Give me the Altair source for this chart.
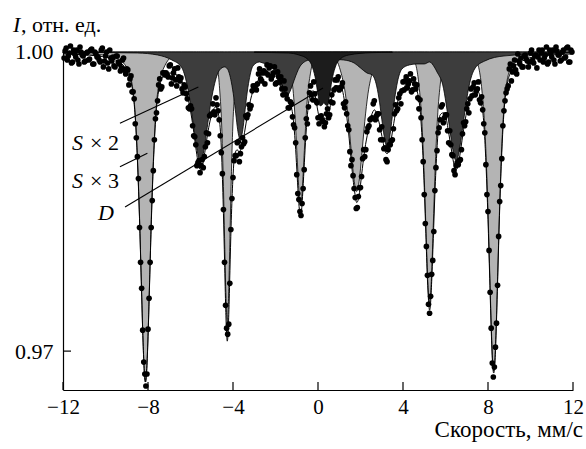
import altair as alt
import pandas as pd

# ---- Mössbauer spectrum: measured transmission (relative units) ----
# first half-channel set
velocity = [
    -11.9, -11.8, -11.7, -11.6, -11.5, -11.4, -11.3, -11.2, -11.1, -11.0,
    -10.9, -10.8, -10.7, -10.6, -10.5, -10.4, -10.3, -10.2, -10.1, -10.0,
    -9.9, -9.8, -9.7, -9.6, -9.5, -9.4, -9.3, -9.2, -9.1, -9.0,
    -8.9, -8.8, -8.7, -8.6, -8.5, -8.4, -8.3, -8.2, -8.1, -8.0,
    -7.9, -7.8, -7.7, -7.6, -7.5, -7.4, -7.3, -7.2, -7.1, -7.0,
    -6.9, -6.8, -6.7, -6.6, -6.5, -6.4, -6.3, -6.2, -6.1, -6.0,
    -5.9, -5.8, -5.7, -5.6, -5.5, -5.4, -5.3, -5.2, -5.1, -5.0,
    -4.9, -4.8, -4.7, -4.6, -4.5, -4.4, -4.3, -4.2, -4.1, -4.0,
    -3.9, -3.8, -3.7, -3.6, -3.5, -3.4, -3.3, -3.2, -3.1, -3.0,
    -2.9, -2.8, -2.7, -2.6, -2.5, -2.4, -2.3, -2.2, -2.1, -2.0,
    -1.9, -1.8, -1.7, -1.6, -1.5, -1.4, -1.3, -1.2, -1.1, -1.0,
    -0.9, -0.8, -0.7, -0.6, -0.5, -0.4, -0.3, -0.2, -0.1, 0.0,
    0.1, 0.2, 0.3, 0.4, 0.5, 0.6, 0.7, 0.8, 0.9, 1.0,
    1.1, 1.2, 1.3, 1.4, 1.5, 1.6, 1.7, 1.8, 1.9, 2.0,
    2.1, 2.2, 2.3, 2.4, 2.5, 2.6, 2.7, 2.8, 2.9, 3.0,
    3.1, 3.2, 3.3, 3.4, 3.5, 3.6, 3.7, 3.8, 3.9, 4.0,
    4.1, 4.2, 4.3, 4.4, 4.5, 4.6, 4.7, 4.8, 4.9, 5.0,
    5.1, 5.2, 5.3, 5.4, 5.5, 5.6, 5.7, 5.8, 5.9, 6.0,
    6.1, 6.2, 6.3, 6.4, 6.5, 6.6, 6.7, 6.8, 6.9, 7.0,
    7.1, 7.2, 7.3, 7.4, 7.5, 7.6, 7.7, 7.8, 7.9, 8.0,
    8.1, 8.2, 8.3, 8.4, 8.5, 8.6, 8.7, 8.8, 8.9, 9.0,
    9.1, 9.2, 9.3, 9.4, 9.5, 9.6, 9.7, 9.8, 9.9, 10.0,
    10.1, 10.2, 10.3, 10.4, 10.5, 10.6, 10.7, 10.8, 10.9, 11.0,
    11.1, 11.2, 11.3, 11.4, 11.5, 11.6, 11.7, 11.8, 11.9,
]
intensity = [
    1.0001, .9992, .9999, .9989, 1.0002, .9995, .9992, 1.0005, .9997, .9990,
    .9999, .9992, 1.0002, .9988, 1.0000, .9995, .9992, 1.0002, .9985, .9996,
    .9989, 1.0002, .9991, .9986, .9996, .9990, .9981, .9992, .9982, .9983,
    .9967, .9976, .9960, .9928, .9895, .9824, .9763, .9689, .9665, .9722,
    .9789, .9851, .9912, .9939, .9967, .9963, .9979, .9977, .9977, .9986,
    .9968, .9979, .9972, .9984, .9971, .9963, .9967, .9958, .9944, .9946,
    .9926, .9915, .9886, .9891, .9886, .9884, .9905, .9909, .9936, .9938,
    .9940, .9954, .9941, .9916, .9878, .9789, .9723, .9727, .9822, .9874,
    .9896, .9909, .9890, .9905, .9908, .9936, .9937, .9943, .9961, .9965,
    .9962, .9978, .9973, .9979, .9968, .9987, .9984, .9973, .9979, .9968,
    .9980, .9970, .9963, .9971, .9957, .9944, .9950, .9935, .9924, .9877,
    .9852, .9836, .9863, .9914, .9928, .9959, .9957, .9970, .9951, .9934,
    .9935, .9932, .9925, .9938, .9934, .9950, .9949, .9972, .9972, .9962,
    .9965, .9948, .9950, .9926, .9900, .9892, .9863, .9843, .9855, .9864,
    .9893, .9895, .9920, .9926, .9933, .9948, .9932, .9938, .9922, .9925,
    .9903, .9892, .9902, .9907, .9912, .9938, .9941, .9954, .9948, .9970,
    .9971, .9964, .9971, .9960, .9973, .9963, .9954, .9952, .9912, .9857,
    .9805, .9747, .9755, .9791, .9861, .9901, .9924, .9945, .9929, .9937,
    .9921, .9921, .9897, .9881, .9886, .9887, .9892, .9918, .9926, .9943,
    .9939, .9963, .9965, .9957, .9963, .9952, .9955, .9928, .9887, .9840,
    .9759, .9688, .9684, .9728, .9815, .9866, .9926, .9951, .9963, .9983,
    .9971, .9986, .9982, .9998, .9988, .9985, .9996, .9993, .9985, .9999,
    .9992, .9996, .9984, 1.0002, .9999, .9990, .9997, .9988, 1.0002, .9995,
    .9992, 1.0005, .9997, .9991, 1.0000, .9994, 1.0004, .9990, 1.0002,
]
# second half-channel set
velocity_b = [
    -11.95, -11.85, -11.75, -11.65, -11.55, -11.45, -11.35, -11.25, -11.15, -11.05,
    -10.95, -10.85, -10.75, -10.65, -10.55, -10.45, -10.35, -10.25, -10.15, -10.05,
    -9.95, -9.85, -9.75, -9.65, -9.55, -9.45, -9.35, -9.25, -9.15, -9.05,
    -8.95, -8.85, -8.75, -8.65, -8.55, -8.45, -8.35, -8.25, -8.15, -8.05,
    -7.95, -7.85, -7.75, -7.65, -7.55, -7.45, -7.35, -7.25, -7.15, -7.05,
    -6.95, -6.85, -6.75, -6.65, -6.55, -6.45, -6.35, -6.25, -6.15, -6.05,
    -5.95, -5.85, -5.75, -5.65, -5.55, -5.45, -5.35, -5.25, -5.15, -5.05,
    -4.95, -4.85, -4.75, -4.65, -4.55, -4.45, -4.35, -4.25, -4.15, -4.05,
    -3.95, -3.85, -3.75, -3.65, -3.55, -3.45, -3.35, -3.25, -3.15, -3.05,
    -2.95, -2.85, -2.75, -2.65, -2.55, -2.45, -2.35, -2.25, -2.15, -2.05,
    -1.95, -1.85, -1.75, -1.65, -1.55, -1.45, -1.35, -1.25, -1.15, -1.05,
    -0.95, -0.85, -0.75, -0.65, -0.55, -0.45, -0.35, -0.25, -0.15, -0.05,
    0.05, 0.15, 0.25, 0.35, 0.45, 0.55, 0.65, 0.75, 0.85, 0.95,
    1.05, 1.15, 1.25, 1.35, 1.45, 1.55, 1.65, 1.75, 1.85, 1.95,
    2.05, 2.15, 2.25, 2.35, 2.45, 2.55, 2.65, 2.75, 2.85, 2.95,
    3.05, 3.15, 3.25, 3.35, 3.45, 3.55, 3.65, 3.75, 3.85, 3.95,
    4.05, 4.15, 4.25, 4.35, 4.45, 4.55, 4.65, 4.75, 4.85, 4.95,
    5.05, 5.15, 5.25, 5.35, 5.45, 5.55, 5.65, 5.75, 5.85, 5.95,
    6.05, 6.15, 6.25, 6.35, 6.45, 6.55, 6.65, 6.75, 6.85, 6.95,
    7.05, 7.15, 7.25, 7.35, 7.45, 7.55, 7.65, 7.75, 7.85, 7.95,
    8.05, 8.15, 8.25, 8.35, 8.45, 8.55, 8.65, 8.75, 8.85, 8.95,
    9.05, 9.15, 9.25, 9.35, 9.45, 9.55, 9.65, 9.75, 9.85, 9.95,
    10.05, 10.15, 10.25, 10.35, 10.45, 10.55, 10.65, 10.75, 10.85, 10.95,
    11.05, 11.15, 11.25, 11.35, 11.45, 11.55, 11.65, 11.75, 11.85, 11.95,
]
intensity_b = [
    .9994, 1.0004, .9996, 1.0006, .9990, .9998, 1.0002, .9988, 1.0000, .9996,
    .9991, 1.0000, .9993, 1.0003, .9988, .9998, .9995, .9990, 1.0004, .9991,
    1.0000, .9983, .9994, .9995, .9985, .9996, .9988, .9984, .9994, .9978,
    .9982, .9973, .9960, .9953, .9914, .9873, .9789, .9721, .9677, .9677,
    .9753, .9824, .9881, .9933, .9951, .9973, .9965, .9979, .9979, .9975,
    .9987, .9974, .9983, .9966, .9975, .9974, .9959, .9965, .9953, .9943,
    .9943, .9916, .9907, .9889, .9879, .9892, .9895, .9919, .9918, .9937,
    .9948, .9937, .9947, .9932, .9899, .9842, .9746, .9717, .9768, .9853,
    .9891, .9896, .9910, .9898, .9914, .9910, .9934, .9947, .9946, .9966,
    .9966, .9968, .9983, .9971, .9981, .9979, .9977, .9986, .9976, .9985,
    .9969, .9975, .9975, .9957, .9963, .9953, .9944, .9948, .9927, .9909,
    .9858, .9840, .9848, .9882, .9933, .9945, .9966, .9952, .9958, .9949,
    .9928, .9936, .9930, .9929, .9943, .9937, .9957, .9962, .9964, .9975,
    .9964, .9969, .9944, .9938, .9922, .9886, .9876, .9854, .9844, .9864,
    .9875, .9902, .9902, .9924, .9932, .9934, .9951, .9936, .9938, .9912,
    .9912, .9904, .9890, .9907, .9911, .9923, .9947, .9943, .9958, .9961,
    .9962, .9975, .9968, .9978, .9962, .9968, .9967, .9943, .9934, .9890,
    .9828, .9776, .9738, .9777, .9820, .9884, .9919, .9932, .9947, .9934,
    .9937, .9909, .9907, .9896, .9877, .9889, .9891, .9902, .9929, .9930,
    .9948, .9953, .9956, .9969, .9961, .9970, .9949, .9942, .9919, .9857,
    .9801, .9723, .9674, .9704, .9766, .9850, .9893, .9941, .9959, .9966,
    .9988, .9980, .9992, .9978, .9991, .9994, .9985, .9997, .9991, .9990,
    1.0002, .9989, .9997, .9995, .9992, 1.0002, .9994, 1.0005, .9990, .9998,
    1.0002, .9988, 1.0001, .9997, .9992, 1.0002, .9995, 1.0005, .9990, 1.0000,
]

# ---- sextet S x 3 (light grey subspectrum) ----
s3_v = [-12, -10.36, -9.52, -8.96, -8.68, -8.512, -8.40, -8.316, -8.232, -8.176,
        -8.12, -8.064, -8.008, -7.924, -7.84, -7.728, -7.56, -7.28, -6.72, -5.88,
        -5.71, -5.17, -4.81, -4.63, -4.522, -4.45, -4.396, -4.342, -4.306, -4.27,
        -4.234, -4.198, -4.144, -4.09, -4.018, -3.91, -3.73, -3.37, -2.83, -2.3,
        -1.97, -1.51, -1.28, -1.142, -1.05, -0.981, -0.912, -0.866, -0.82, -0.774,
        -0.728, -0.659, -0.59, -0.498, -0.36, -0.13, 0.33, 0.68, 1.06, 1.288,
        1.44, 1.554, 1.668, 1.744, 1.82, 1.896, 1.972, 2.086, 2.2, 2.352,
        2.58, 2.96, 3.4, 3.9, 4.5, 4.75, 4.9, 5.0, 5.075, 5.15,
        5.2, 5.25, 5.3, 5.35, 5.425, 5.5, 5.6, 5.75, 6.0, 6.5,
        6.92, 7.46, 7.73, 7.892, 8.0, 8.081, 8.162, 8.216, 8.27, 8.324,
        8.378, 8.459, 8.54, 8.648, 8.81, 9.08, 9.62, 10.43, 12]
s3_i = [.9999, .99975, .9994, .9983, .9957, .9901, .9835, .9771, .9709, .9680,
        .9669, .9680, .9709, .9771, .9835, .9901, .9957, .9983, .9997, .9999,
        .9999, .9998, .9991, .9963, .9920, .9865, .9813, .9763, .9739, .9729,
        .9739, .9763, .9813, .9865, .9920, .9963, .9991, .9998, .9999, .9999,
        .9999, .9995, .9979, .9954, .9923, .9894, .9866, .9852, .9847, .9852,
        .9866, .9894, .9923, .9954, .9978, .9995, .9997, .9996, .9981, .9958,
        .9930, .9903, .9877, .9865, .9860, .9865, .9877, .9903, .9930, .9958,
        .9981, .9996, .9999, .9998, .9992, .9967, .9925, .9874, .9826, .9779,
        .9757, .9749, .9757, .9779, .9826, .9874, .9925, .9967, .9992, .9998,
        .9997, .9990, .9958, .9905, .9840, .9779, .9720, .9691, .9680, .9691,
        .9720, .9779, .9840, .9905, .9958, .9984, .9994, .99976, .9999]

# ---- sextets S x 2 (dark grey subspectrum) ----
s2_v = [-12, -8.5, -7.55, -6.88, -6.43, -6.16, -5.845, -5.71, -5.62, -5.53,
        -5.44, -5.35, -5.215, -5.08, -4.9, -4.63, -4.4, -4.26, -4.08, -3.96,
        -3.87, -3.78, -3.72, -3.66, -3.60, -3.54, -3.45, -3.36, -3.24, -3.06,
        -2.76, -2.6, -2.2, -1.95, -1.8, -1.65, -1.5, -1.35, -1.2, -1.05,
        -0.8, -0.4, 0.4, 1.2, 1.7, 2.0, 2.3, 2.55, 2.76, 2.9,
        3.005, 3.11, 3.18, 3.25, 3.32, 3.39, 3.495, 3.6, 3.74, 3.95,
        4.3, 4.65, 5.0, 5.25, 5.5, 5.6, 5.87, 6.185, 6.32, 6.41,
        6.5, 6.59, 6.68, 6.815, 6.95, 7.13, 7.4, 7.85, 8.75, 12]
s2_i = [.99997, .9999, .9997, .9992, .9985, .9967, .9924, .9904, .9894, .9891,
        .9894, .9904, .9924, .9944, .9965, .9982, .9985, .9983, .9970, .9954,
        .9938, .9922, .9915, .9912, .9915, .9922, .9938, .9955, .9972, .9986,
        .9990, .9989, .9987, .9976, .9967, .9959, .9955, .9959, .9967, .9976,
        .9987, .9992, .9993, .9992, .9989, .9984, .9979, .9977, .9966, .9949,
        .9932, .9916, .9908, .9905, .9909, .9917, .9935, .9952, .9970, .9983,
        .9987, .9988, .9988, .9990, .9984, .9980, .9967, .9925, .9905, .9895,
        .9891, .9895, .9905, .9925, .9946, .9968, .9984, .9991, .9996, .99997]

# ---- doublet D (black subspectrum) ----
d_v = [-3, -1.4, -0.9, -0.5, -0.25, -0.1, 0.0, 0.1, 0.2, 0.275,
       0.35, 0.45, 0.55, 0.65, 0.8, 1.05, 1.45, 2.5, 3.5]
d_i = [.99996, .9999, .9997, .9993, .9984, .9971, .9957, .9946, .9947, .9949,
       .9947, .9946, .9957, .9971, .9984, .9993, .9997, .99993, .99997]

# ---- total fitted envelope ----
fit_v = [-12, -10.36, -9.52, -8.96, -8.68, -8.512, -8.40, -8.316, -8.232, -8.176,
         -8.12, -8.064, -8.008, -7.924, -7.84, -7.728, -7.56, -7.28, -7.03, -6.72,
         -6.53, -6.13, -5.88, -5.73, -5.63, -5.53, -5.43, -5.33, -5.17, -4.93,
         -4.81, -4.63, -4.522, -4.45, -4.396, -4.342, -4.306, -4.27, -4.234, -4.198,
         -4.144, -4.09, -4.018, -3.91, -3.8, -3.73, -3.66, -3.56, -3.46, -3.31,
         -3.06, -2.83, -2.66, -2.16, -1.97, -1.8, -1.51, -1.4, -1.28, -1.142,
         -1.05, -0.981, -0.912, -0.866, -0.82, -0.774, -0.728, -0.659, -0.59, -0.498,
         -0.36, -0.22, -0.13, 0.0, 0.1, 0.2, 0.275, 0.35, 0.45, 0.55,
         0.68, 0.82, 1.06, 1.288, 1.44, 1.554, 1.668, 1.744, 1.82, 1.896,
         1.972, 2.086, 2.2, 2.352, 2.58, 2.65, 2.9, 3.05, 3.15, 3.25,
         3.35, 3.45, 3.6, 3.85, 4.0, 4.25, 4.5, 4.75, 4.9, 5.0,
         5.075, 5.15, 5.2, 5.25, 5.3, 5.35, 5.425, 5.5, 5.6, 5.75,
         5.9, 6.0, 6.15, 6.3, 6.4, 6.5, 6.6, 6.7, 6.85, 6.92,
         7.1, 7.46, 7.73, 7.892, 8.0, 8.081, 8.162, 8.216, 8.27, 8.324,
         8.378, 8.459, 8.54, 8.648, 8.81, 9.08, 9.62, 10.43, 12]
fit_i = [.9998, .9996, .9992, .9980, .9954, .9899, .9833, .9770, .9709, .9680,
         .9669, .9680, .9708, .9769, .9832, .9897, .9952, .9976, .9979, .9978,
         .9974, .9955, .9925, .9901, .9888, .9882, .9887, .9899, .9921, .9942,
         .9945, .9930, .9889, .9838, .9790, .9742, .9719, .9710, .9717, .9737,
         .9781, .9825, .9867, .9898, .9902, .9900, .9901, .9907, .9919, .9938,
         .9961, .9971, .9977, .9980, .9975, .9972, .9957, .9951, .9947, .9928,
         .9902, .9876, .9851, .9840, .9835, .9841, .9855, .9882, .9909, .9937,
         .9958, .9961, .9956, .9940, .9931, .9932, .9934, .9933, .9932, .9942,
         .9960, .9966, .9966, .9945, .9919, .9893, .9869, .9857, .9849, .9852,
         .9862, .9883, .9902, .9920, .9940, .9942, .9927, .9911, .9901, .9898,
         .9902, .9913, .9933, .9958, .9962, .9971, .9968, .9952, .9912, .9864,
         .9818, .9772, .9751, .9741, .9749, .9770, .9813, .9857, .9903, .9937,
         .9939, .9936, .9919, .9899, .9887, .9882, .9887, .9900, .9922, .9931,
         .9950, .9962, .9944, .9894, .9832, .9773, .9715, .9687, .9678, .9688,
         .9716, .9775, .9836, .9899, .9954, .9980, .9991, .9996, .9998]

# ---- annotation labels and their leader lines (data coordinates) ----
label_names = ["S", "S", "D"]
label_tails = ["× 2", "× 3", ""]
label_v = [-11.58, -11.58, -10.35]
tail_v = [-10.73, -10.73, -10.35]
label_i = [0.99017, 0.98636, 0.98314]
leader_v0 = [-9.32, -9.32, -9.08]
leader_i0 = [0.99285, 0.98849, 0.98445]
leader_v1 = [-5.63, -8.03, 0.235]
leader_i1 = [0.99649, 0.98984, 0.99639]

x_ticks = [-12, -8, -4, 0, 4, 8, 12]
y_ticks = [0.97, 1.00]

X_DOMAIN = [-12, 12]
Y_DOMAIN = [0.9661, 1.0004]
W, H = 510, 342
FONT = "Liberation Serif"

xs = alt.Scale(domain=X_DOMAIN, nice=False, zero=False)
ys = alt.Scale(domain=Y_DOMAIN, nice=False, zero=False)

X_AXIS = alt.Axis(values=x_ticks, ticks=False, grid=False, labelFlush=False,
                  labelPadding=6, labelFontSize=21, labelFont=FONT,
                  labelColor="black", domainColor="black", domainWidth=1.2)
Y_AXIS = alt.Axis(values=y_ticks, format=".2f", ticks=False, grid=False,
                  labelFlush=False, labelPadding=10, labelFontSize=22,
                  labelFont=FONT, labelColor="black", domainColor="black",
                  domainWidth=1.2)


def xq(field):
    return alt.X(field, type="quantitative", scale=xs, axis=X_AXIS, title=None)


def yq(field):
    return alt.Y(field, type="quantitative", scale=ys, axis=Y_AXIS, title=None)


def subspectrum(vs, iv, fill):
    df = pd.DataFrame({"v": vs, "i": iv})
    return alt.Chart(df).mark_area(
        fill=fill, stroke="black", strokeWidth=0.8, interpolate="monotone",
        opacity=1
    ).encode(x=xq("v"), y=yq("i"), y2=alt.datum(1.0))


light = subspectrum(s3_v, s3_i, "#b4b4b4")
dark = subspectrum(s2_v, s2_i, "#3d3d3d")
doublet = subspectrum(d_v, d_i, "#1c1c1c")

fit = alt.Chart(pd.DataFrame({"v": fit_v, "i": fit_i})).mark_line(
    color="black", strokeWidth=1, interpolate="monotone"
).encode(x=xq("v"), y=yq("i"))

points = alt.Chart(pd.DataFrame({"v": velocity + velocity_b,
                                 "i": intensity + intensity_b})).mark_circle(
    color="black", size=32, opacity=1
).encode(x=xq("v"), y=yq("i"))

leaders = alt.Chart(pd.DataFrame({"v0": leader_v0, "i0": leader_i0,
                                  "v1": leader_v1, "i1": leader_i1})).mark_rule(
    color="black", strokeWidth=1.1
).encode(x=xq("v0"), y=yq("i0"), x2="v1:Q", y2="i1:Q")

lab_df = pd.DataFrame({"name": label_names, "tail": label_tails, "v": label_v,
                       "tv": tail_v, "i": label_i})
lab_italic = alt.Chart(lab_df).mark_text(
    font=FONT, fontSize=22, fontStyle="italic", align="left", baseline="alphabetic",
    color="black"
).encode(x=xq("v"), y=yq("i"), text="name:N")
lab_tail = alt.Chart(lab_df).mark_text(
    font=FONT, fontSize=22, align="left", baseline="alphabetic", color="black"
).encode(x=xq("tv"), y=yq("i"), text="tail:N")

xt = alt.Chart(pd.DataFrame({"t": x_ticks})).mark_rule(color="black", strokeWidth=1.2).encode(
    x=xq("t"), y=alt.value(H), y2=alt.value(H - 8))
yt = alt.Chart(pd.DataFrame({"t": y_ticks})).mark_rule(color="black", strokeWidth=1.2).encode(
    y=yq("t"), x=alt.value(0), x2=alt.value(8))

y_title_i = alt.Chart(pd.DataFrame({"s": ["I"]})).mark_text(
    font=FONT, fontSize=22, fontStyle="italic", align="left", baseline="alphabetic",
    color="black"
).encode(x=alt.value(-50), y=alt.value(-16), text="s:N")
y_title_rest = alt.Chart(pd.DataFrame({"s": [", отн. ед."]})).mark_text(
    font=FONT, fontSize=22, align="left", baseline="alphabetic", color="black"
).encode(x=alt.value(-42), y=alt.value(-16), text="s:N")
x_title = alt.Chart(pd.DataFrame({"s": ["Скорость, мм/с"]})).mark_text(
    font=FONT, fontSize=23, align="right", baseline="alphabetic", color="black"
).encode(x=alt.value(520), y=alt.value(389), text="s:N")

chart = alt.layer(
    light, dark, doublet, fit, points, leaders, lab_italic, lab_tail,
    xt, yt, y_title_i, y_title_rest, x_title,
).properties(
    width=W, height=H,
    padding={"left": 63, "top": 48, "right": 13, "bottom": 59},
    autosize=alt.AutoSizeParams(type="none"),
).configure_view(stroke=None)

chart.save("out.html", embed_options={"renderer": "svg", "actions": False})
